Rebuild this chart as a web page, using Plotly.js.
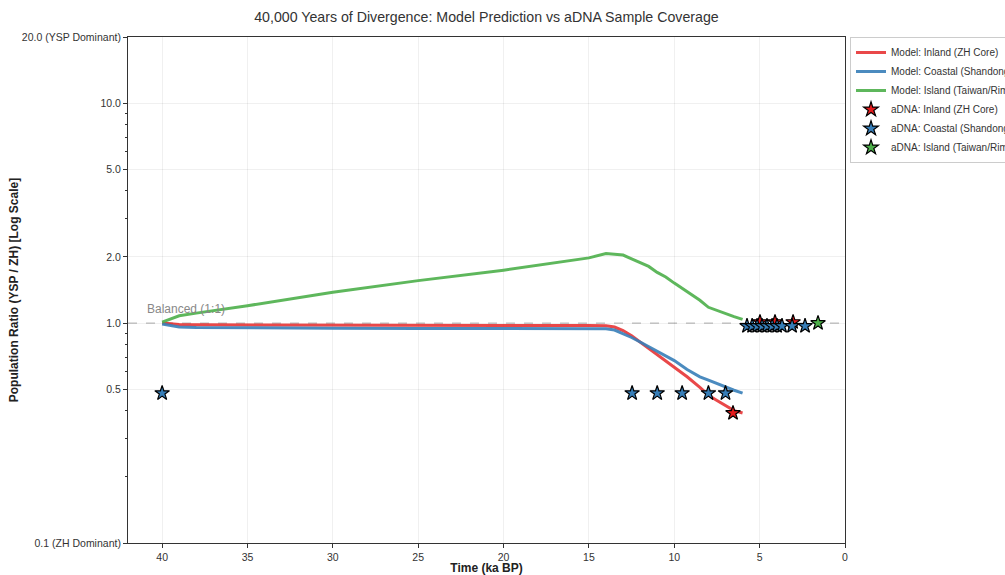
<!DOCTYPE html>
<html><head><meta charset="utf-8">
<script src="https://cdn.plot.ly/plotly-3.0.1.min.js"></script>
<style>html,body{margin:0;padding:0;background:#fff;}#chart{width:1005px;height:575px;}</style>
</head><body><div id="chart"></div>
<script>
// Model curves (time in ka BP, ratio YSP/ZH)
const modelTime = [40, 39, 38, 35, 30, 25, 20, 15, 14, 13.5, 13, 12.5, 12, 11.5, 11, 10.5, 10, 9.25, 8.5, 8, 7.5, 7, 6.5, 6];
const inlandModel = [1.0, 0.985, 0.982, 0.98, 0.978, 0.977, 0.976, 0.975, 0.973, 0.96, 0.925, 0.875, 0.82, 0.77, 0.72, 0.67, 0.63, 0.57, 0.51, 0.47, 0.445, 0.42, 0.40, 0.39];
const coastalModel = [0.99, 0.96, 0.955, 0.95, 0.948, 0.946, 0.945, 0.945, 0.943, 0.93, 0.895, 0.86, 0.82, 0.78, 0.745, 0.71, 0.675, 0.615, 0.57, 0.55, 0.53, 0.51, 0.495, 0.48];
const islandModel = [1.01, 1.08, 1.11, 1.2, 1.38, 1.56, 1.74, 1.98, 2.07, 2.06, 2.04, 1.96, 1.88, 1.81, 1.7, 1.62, 1.52, 1.39, 1.27, 1.18, 1.14, 1.1, 1.07, 1.04];

// aDNA samples
const inlandSampleTime = [6.56, 4.98, 4.1, 3.04];
const inlandSampleRatio = [0.39, 1.01, 1.01, 1.01];
const coastalSampleTime = [40, 12.47, 11.0, 9.54, 8.0, 7.0, 5.74, 5.44, 5.15, 4.86, 4.57, 4.27, 3.98, 3.69, 3.1, 2.34];
const coastalSampleRatio = [0.48, 0.48, 0.48, 0.48, 0.48, 0.48, 0.97, 0.97, 0.97, 0.97, 0.97, 0.97, 0.97, 0.97, 0.97, 0.97];
const islandSampleTime = [1.58];
const islandSampleRatio = [1.0];

// Axis ticks
const yTickVals = [0.1, 0.5, 1, 2, 5, 10, 20];
const yTickText = ['0.1 (ZH Dominant)', '0.5', '1.0', '2.0', '5.0', '10.0', '20.0 (YSP Dominant)'];
const yMinorVals = [0.2, 0.3, 0.4, 0.6, 0.7, 0.8, 0.9, 3, 4, 6, 7, 8, 9];
const xTickVals = [40, 35, 30, 25, 20, 15, 10, 5, 0];

const RED = 'rgba(228,26,28,0.8)', BLUE = 'rgba(55,126,184,0.9)', GREEN = 'rgba(77,175,74,0.9)';
const STAR = 11;

const traces = [
  {x: modelTime, y: inlandModel, mode: 'lines', name: 'Model: Inland (ZH Core)', line: {color: RED, width: 3}},
  {x: modelTime, y: coastalModel, mode: 'lines', name: 'Model: Coastal (Shandong)', line: {color: BLUE, width: 3}},
  {x: modelTime, y: islandModel, mode: 'lines', name: 'Model: Island (Taiwan/Rim)', line: {color: GREEN, width: 3}},
  {x: inlandSampleTime, y: inlandSampleRatio, mode: 'markers', name: 'aDNA: Inland (ZH Core)', marker: {symbol: 'star', size: STAR, color: '#e41a1c', line: {color: '#000', width: 1.2}}},
  {x: coastalSampleTime, y: coastalSampleRatio, mode: 'markers', name: 'aDNA: Coastal (Shandong)', marker: {symbol: 'star', size: STAR, color: '#377eb8', line: {color: '#000', width: 1.2}}},
  {x: islandSampleTime, y: islandSampleRatio, mode: 'markers', name: 'aDNA: Island (Taiwan/Rim)', marker: {symbol: 'star', size: STAR, color: '#4daf4a', line: {color: '#000', width: 1.2}}}
];

const layout = {
  width: 1005, height: 575,
  margin: {l: 128, r: 160, t: 37, b: 32, autoexpand: false},
  paper_bgcolor: '#fff', plot_bgcolor: '#fff',
  font: {family: 'Liberation Sans, Arial, sans-serif', size: 10.5, color: '#333'},
  title: {text: '40,000 Years of Divergence: Model Prediction vs aDNA Sample Coverage', x: 0.484, xanchor: 'center', y: 0.97, yanchor: 'middle', font: {size: 14.2, color: '#333'}},
  xaxis: {
    range: [42, 0], tickvals: xTickVals, ticks: 'outside', ticklen: 4, tickcolor: '#333',
    showline: true, mirror: true, linecolor: '#333', linewidth: 1,
    showgrid: true, gridcolor: 'rgba(0,0,0,0.06)', zeroline: false,
    title: {text: '<b>Time (ka BP)</b>', font: {size: 12, color: '#222'}, standoff: 4},
    tickfont: {size: 10.5, color: '#333'}
  },
  yaxis: {
    type: 'log', range: [-1, Math.log10(20)], tickmode: 'array', tickvals: yTickVals, ticktext: yTickText,
    ticks: 'outside', ticklen: 4, tickcolor: '#333', automargin: true,
    minor: {tickmode: 'array', tickvals: yMinorVals, ticks: 'outside', ticklen: 2, tickcolor: '#333', showgrid: false},
    showline: true, mirror: true, linecolor: '#333', linewidth: 1,
    showgrid: true, gridcolor: 'rgba(0,0,0,0.06)', zeroline: false,
    title: {text: '<b>Population Ratio (YSP / ZH) [Log Scale]</b>', font: {size: 12, color: '#222'}, standoff: 0},
    tickfont: {size: 10.5, color: '#333'}
  },
  shapes: [{type: 'line', xref: 'paper', x0: 0, x1: 1, yref: 'y', y0: 1, y1: 1, line: {color: 'rgba(120,120,120,0.6)', width: 1, dash: 'dash'}, layer: 'below'}],
  annotations: [{xref: 'x', yref: 'y', x: 41, y: Math.log10(1.0), text: 'Balanced (1:1)', showarrow: false, xanchor: 'left', yanchor: 'bottom', yshift: 5, font: {size: 12, color: '#888'}}],
  legend: {x: 1.007, xanchor: 'left', y: 1, yanchor: 'top', bgcolor: 'rgba(255,255,255,0.9)', bordercolor: '#ccc', borderwidth: 1, font: {size: 10, color: '#333'}, tracegroupgap: 0, itemwidth: 30},
  showlegend: true
};

Plotly.newPlot('chart', traces, layout, {displayModeBar: false, staticPlot: true});
</script></body></html>
